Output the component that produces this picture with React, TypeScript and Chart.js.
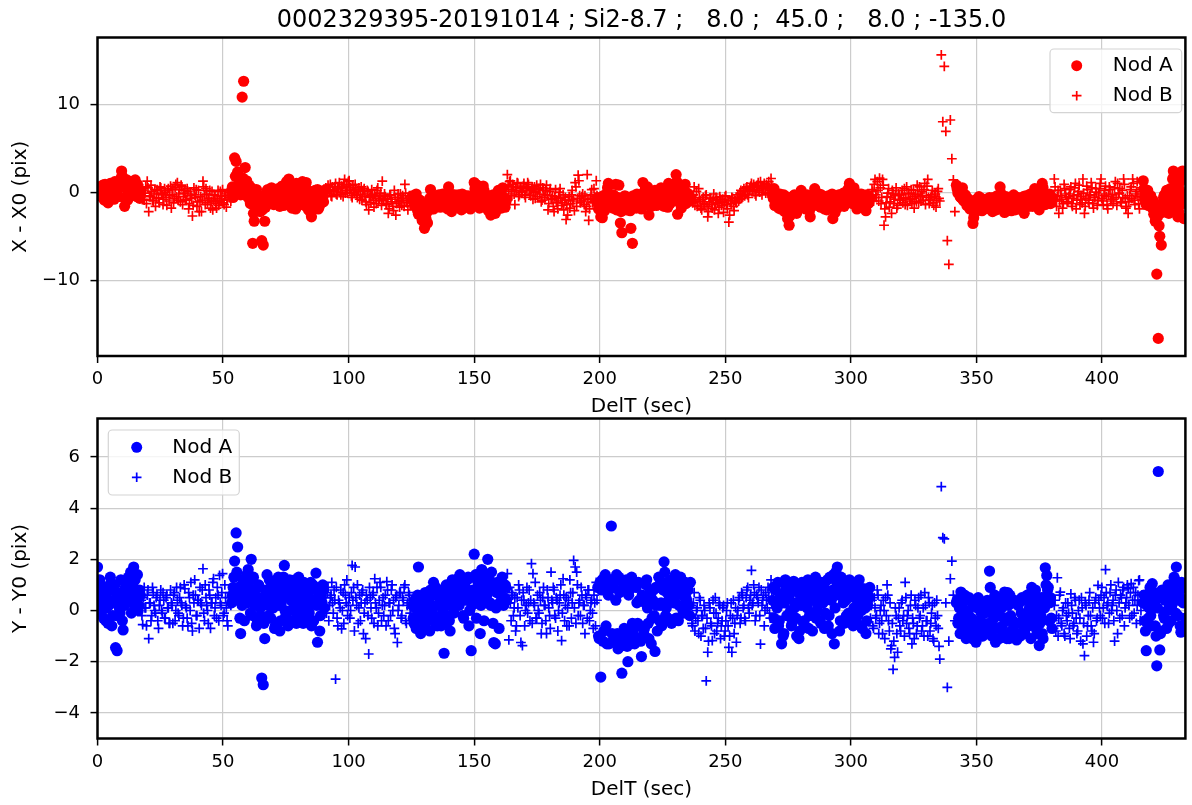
import React, { useEffect, useRef } from 'react';
import { Chart, registerables } from 'chart.js';

Chart.register(...registerables);

const FONT = "'DejaVu Sans', sans-serif";
const TITLE = '0002329395-20191014 ; Si2-8.7 ;   8.0 ;  45.0 ;   8.0 ; -135.0';
const GRID = '#cccccc';

// ---- ticks / ranges ----
const xTickValues = [0, 50, 100, 150, 200, 250, 300, 350, 400];
const topYTickValues = [-10, 0, 10];
const botYTickValues = [-4, -2, 0, 2, 4, 6];
const X_MAX = 433.2;
const TOP_Y_RANGE = [-18.6, 17.57];
const BOT_Y_RANGE = [-5, 7.5];

// ---- Nod A: frame times (sec), one sub-array per nod-A block ----
const nodATime = [
  [0.0,0.6,1.2,1.8,2.4,3.0,3.6,4.2,4.8,5.4,
   6.0,6.6,7.2,7.8,8.4,9.0,9.6,10.2,10.8,11.4,
   12.0,12.6,13.2,13.8,14.4,15.0,15.6,16.2,16.8],
  [53.4,54.0,54.6,55.2,55.8,56.4,57.0,57.6,58.2,58.8,
   59.4,60.0,60.6,61.2,61.8,62.4,63.0,63.6,64.2,64.8,
   65.4,66.0,66.6,67.2,67.8,68.4,69.0,69.6,70.2,70.8,
   71.4,72.0,72.6,73.2,73.8,74.4,75.0,75.6,76.2,76.8,
   77.4,78.0,78.6,79.2,79.8,80.4,81.0,81.6,82.2,82.8,
   83.4,84.0,84.6,85.2,85.8,86.4,87.0,87.6,88.2,88.8,
   89.4,90.0],
  [125.4,126.0,126.6,127.2,127.8,128.4,129.0,129.6,130.2,130.8,
   131.4,132.0,132.6,133.2,133.8,134.4,135.0,135.6,136.2,136.8,
   137.4,138.0,138.6,139.2,139.8,140.4,141.0,141.6,142.2,142.8,
   143.4,144.0,144.6,145.2,145.8,146.4,147.0,147.6,148.2,148.8,
   149.4,150.0,150.6,151.2,151.8,152.4,153.0,153.6,154.2,154.8,
   155.4,156.0,156.6,157.2,157.8,158.4,159.0,159.6,160.2,160.8,
   161.4,162.0,162.6],
  [199.2,199.8,200.4,201.0,201.6,202.2,202.8,203.4,204.0,204.6,
   205.2,205.8,206.4,207.0,207.6,208.2,208.8,209.4,210.0,210.6,
   211.2,211.8,212.4,213.0,213.6,214.2,214.8,215.4,216.0,216.6,
   217.2,217.8,218.4,219.0,219.6,220.2,220.8,221.4,222.0,222.6,
   223.2,223.8,224.4,225.0,225.6,226.2,226.8,227.4,228.0,228.6,
   229.2,229.8,230.4,231.0,231.6,232.2,232.8,233.4,234.0,234.6,
   235.2,235.8],
  [268.8,269.4,270.0,270.6,271.2,271.8,272.4,273.0,273.6,274.2,
   274.8,275.4,276.0,276.6,277.2,277.8,278.4,279.0,279.6,280.2,
   280.8,281.4,282.0,282.6,283.2,283.8,284.4,285.0,285.6,286.2,
   286.8,287.4,288.0,288.6,289.2,289.8,290.4,291.0,291.6,292.2,
   292.8,293.4,294.0,294.6,295.2,295.8,296.4,297.0,297.6,298.2,
   298.8,299.4,300.0,300.6,301.2,301.8,302.4,303.0,303.6,304.2,
   304.8,305.4,306.0,306.6,307.2],
  [342.0,342.6,343.2,343.8,344.4,345.0,345.6,346.2,346.8,347.4,
   348.0,348.6,349.2,349.8,350.4,351.0,351.6,352.2,352.8,353.4,
   354.0,354.6,355.2,355.8,356.4,357.0,357.6,358.2,358.8,359.4,
   360.0,360.6,361.2,361.8,362.4,363.0,363.6,364.2,364.8,365.4,
   366.0,366.6,367.2,367.8,368.4,369.0,369.6,370.2,370.8,371.4,
   372.0,372.6,373.2,373.8,374.4,375.0,375.6,376.2,376.8,377.4,
   378.0,378.6,379.2,379.8],
  [416.4,417.0,417.6,418.2,418.8,419.4,420.0,420.6,421.2,421.8,
   422.4,423.0,423.6,424.2,424.8,425.4,426.0,426.6,427.2,427.8,
   428.4,429.0,429.6,430.2,430.8,431.4,432.0,432.6,433.2],
];
// the in-between frames of the same blocks
const nodATimeMid = [
  [0.3,0.9,1.5,2.1,2.7,3.3,3.9,4.5,5.1,5.7,
   6.3,6.9,7.5,8.1,8.7,9.3,9.9,10.5,11.1,11.7,
   12.3,12.9,13.5,14.1,14.7,15.3,15.9,16.5,17.1],
  [53.7,54.3,54.9,55.5,56.1,56.7,57.3,57.9,58.5,59.1,
   59.7,60.3,60.9,61.5,62.1,62.7,63.3,63.9,64.5,65.1,
   65.7,66.3,66.9,67.5,68.1,68.7,69.3,69.9,70.5,71.1,
   71.7,72.3,72.9,73.5,74.1,74.7,75.3,75.9,76.5,77.1,
   77.7,78.3,78.9,79.5,80.1,80.7,81.3,81.9,82.5,83.1,
   83.7,84.3,84.9,85.5,86.1,86.7,87.3,87.9,88.5,89.1,
   89.7,90.3],
  [125.7,126.3,126.9,127.5,128.1,128.7,129.3,129.9,130.5,131.1,
   131.7,132.3,132.9,133.5,134.1,134.7,135.3,135.9,136.5,137.1,
   137.7,138.3,138.9,139.5,140.1,140.7,141.3,141.9,142.5,143.1,
   143.7,144.3,144.9,145.5,146.1,146.7,147.3,147.9,148.5,149.1,
   149.7,150.3,150.9,151.5,152.1,152.7,153.3,153.9,154.5,155.1,
   155.7,156.3,156.9,157.5,158.1,158.7,159.3,159.9,160.5,161.1,
   161.7,162.3,162.9],
  [199.5,200.1,200.7,201.3,201.9,202.5,203.1,203.7,204.3,204.9,
   205.5,206.1,206.7,207.3,207.9,208.5,209.1,209.7,210.3,210.9,
   211.5,212.1,212.7,213.3,213.9,214.5,215.1,215.7,216.3,216.9,
   217.5,218.1,218.7,219.3,219.9,220.5,221.1,221.7,222.3,222.9,
   223.5,224.1,224.7,225.3,225.9,226.5,227.1,227.7,228.3,228.9,
   229.5,230.1,230.7,231.3,231.9,232.5,233.1,233.7,234.3,234.9,
   235.5,236.1],
  [269.1,269.7,270.3,270.9,271.5,272.1,272.7,273.3,273.9,274.5,
   275.1,275.7,276.3,276.9,277.5,278.1,278.7,279.3,279.9,280.5,
   281.1,281.7,282.3,282.9,283.5,284.1,284.7,285.3,285.9,286.5,
   287.1,287.7,288.3,288.9,289.5,290.1,290.7,291.3,291.9,292.5,
   293.1,293.7,294.3,294.9,295.5,296.1,296.7,297.3,297.9,298.5,
   299.1,299.7,300.3,300.9,301.5,302.1,302.7,303.3,303.9,304.5,
   305.1,305.7,306.3,306.9,307.5],
  [342.3,342.9,343.5,344.1,344.7,345.3,345.9,346.5,347.1,347.7,
   348.3,348.9,349.5,350.1,350.7,351.3,351.9,352.5,353.1,353.7,
   354.3,354.9,355.5,356.1,356.7,357.3,357.9,358.5,359.1,359.7,
   360.3,360.9,361.5,362.1,362.7,363.3,363.9,364.5,365.1,365.7,
   366.3,366.9,367.5,368.1,368.7,369.3,369.9,370.5,371.1,371.7,
   372.3,372.9,373.5,374.1,374.7,375.3,375.9,376.5,377.1,377.7,
   378.3,378.9,379.5,380.1],
  [416.7,417.3,417.9,418.5,419.1,419.7,420.3,420.9,421.5,422.1,
   422.7,423.3,423.9,424.5,425.1,425.7,426.3,426.9,427.5,428.1,
   428.7,429.3,429.9,430.5,431.1,431.7,432.3,432.9],
];

// Nod A: X - X0 (pix)
const nodAX = [
  [0.3,-0.4,0.6,0.1,-0.6,0.9,0.2,-1.2,0.5,-0.3,
   0.7,-0.8,1.1,0.2,-0.5,1.3,2.4,0.9,-1.6,1.0,
   -0.9,0.4,1.2,-0.2,0.6,1.4,-0.5,0.3,-0.7],
  [0.2,-0.6,3.9,3.5,2.3,0.4,-0.3,10.8,12.6,2.8,
   1.3,0.1,-0.9,0.5,-5.8,-3.3,-1.5,-0.4,-1.0,-2.2,
   -5.5,-6.0,-3.3,-0.7,0.3,-1.2,-0.5,0.2,-1.4,-0.3,
   -0.9,0.4,-1.6,-0.2,0.6,-1.1,0.9,-0.6,1.5,-0.2,
   -1.8,0.3,-0.8,1.0,-1.3,0.2,-0.5,1.2,-1.0,0.6,
   -0.4,-2.0,-1.2,-2.8,0.1,-0.7,-1.5,0.3,-1.7,-0.9,
   -0.3,-1.1],
  [-0.4,-1.2,-0.6,-1.8,-2.5,-0.9,-1.5,-2.9,-4.1,-3.0,
   -3.5,-1.3,0.3,-0.8,-1.9,-1.1,-0.5,-1.6,-0.7,-1.3,
   -0.2,-1.0,-1.7,-0.6,0.6,-1.4,-2.2,-0.9,-0.3,-1.2,
   -1.6,-0.5,-1.0,-0.2,-1.8,-0.8,-1.3,-0.4,-1.1,-0.6,
   -1.5,1.1,-0.3,0.8,-0.9,-1.4,-0.1,0.7,-1.7,-0.6,
   -1.2,-0.4,-2.6,-1.0,-0.7,-2.4,-1.5,0.2,-0.9,-1.8,
   0.5,-0.6,-1.1],
  [-0.6,-1.4,-2.8,-2.9,-1.0,-0.3,-1.7,1.0,-1.2,-0.5,
   -1.8,-0.8,0.9,-1.5,0.8,-3.5,-4.6,-1.1,-0.4,-2.0,
   -1.3,-0.7,-4.1,-5.8,-1.6,-0.9,-0.2,-1.4,-0.6,-1.9,
   1.1,-0.5,-1.0,0.6,-2.6,-0.3,-1.2,-0.7,0.2,-1.5,
   -0.4,-1.1,0.5,-0.8,-1.6,0.1,-0.5,1.0,-1.3,-0.2,
   -0.9,0.4,2.0,-2.5,-0.6,0.7,-1.2,-0.3,0.9,-0.8,
   -0.4,-1.0],
  [-0.3,0.4,-1.0,-0.6,-1.8,-0.2,-1.3,-0.8,-2.2,-0.5,
   -3.0,-3.75,-1.6,-0.9,-0.4,-1.4,-2.4,-0.7,-1.1,0.2,
   -1.5,-0.6,-1.9,-0.3,-1.0,-2.8,-0.5,-1.2,0.4,-0.8,
   -1.4,-0.2,-1.7,-0.9,-0.5,-1.3,-2.0,-0.4,-1.0,-0.7,
   -3.0,-1.2,-0.6,-1.8,-0.3,-0.9,-1.5,-0.1,-1.1,-0.6,
   0.3,1.0,-0.8,-1.3,0.5,-0.4,-1.9,-0.7,-1.1,-0.2,
   -1.4,-0.5,-2.1,-0.8,-1.2],
  [0.8,-0.1,0.3,-0.6,0.5,-1.0,-0.3,-1.5,-0.8,-1.9,
   -1.2,-3.55,-2.4,-0.9,-1.6,-0.5,-1.3,-2.1,-0.8,-1.4,
   -1.0,-1.8,-0.6,-1.3,-2.2,-0.7,-1.5,-0.4,-1.1,0.6,
   -1.6,-0.9,-2.3,-0.5,-1.2,-1.8,-0.7,-1.4,-0.3,-2.0,
   -1.1,-0.6,-1.7,-0.9,-1.3,-2.4,-0.4,-1.0,-1.6,-0.2,
   -0.8,-1.5,0.4,-1.2,-0.6,-2.0,-0.3,1.0,-0.9,-1.4,
   -0.5,-1.1,-0.2,-0.8],
  [1.3,-0.6,-1.4,0.2,-1.0,-0.4,-1.8,-2.5,-3.3,-9.3,
   -16.6,-5.0,-6.0,-1.2,-0.3,-1.6,-0.8,-2.4,0.4,-1.1,
   2.4,-0.5,1.0,-2.8,0.3,-1.4,2.4,-3.0,1.6],
];
const nodAXMid = [
  [-0.2,0.5,0.0,0.8,-0.9,0.3,-0.4,0.6,1.0,-0.1,
   0.4,1.2,-0.3,0.7,0.9,1.6,1.8,-0.6,0.5,1.4,
   0.2,-0.4,0.8,1.0,-0.1,0.5,0.9,-0.3,0.1],
  [0.6,-0.2,1.8,2.0,0.9,1.1,0.4,1.6,0.7,0.2,
   -0.5,0.8,-1.3,-0.2,-2.4,-1.0,0.3,-0.9,-1.6,-0.4,
   -2.0,-1.1,-1.7,0.1,-0.6,-1.0,0.5,-1.3,-0.2,-0.8,
   0.2,-1.2,-0.4,0.7,-1.5,-0.3,1.2,-0.9,0.4,-1.4,
   0.9,-0.6,-1.9,0.4,-0.2,-1.1,0.8,-0.7,-1.5,1.1,
   -1.0,-0.3,-2.3,-0.6,-1.4,0.2,-0.8,-1.9,-0.5,-1.2,
   -0.6,0.2],
  [-0.8,-1.5,-0.2,-2.1,-1.3,-2.6,-3.2,-1.9,-3.4,-2.3,
   -1.6,-0.7,-1.9,-1.2,-0.4,-1.5,-1.0,-0.3,-1.7,-0.9,
   -1.4,-0.5,-1.1,-1.9,-0.8,-0.2,-1.3,-1.7,-0.6,-1.0,
   -0.3,-1.4,-2.0,-0.7,-1.2,-0.4,-1.6,-0.9,-1.9,-0.5,
   -0.8,0.4,-1.2,-0.6,-1.8,-0.3,-1.1,0.2,-0.9,-1.4,
   -2.1,-0.8,-1.5,-0.3,-2.2,-1.1,-0.6,-1.6,-1.3,-0.4,
   -1.0,-1.7,-0.8],
  [-1.9,-0.9,-1.5,-0.4,-2.1,-1.2,0.5,-0.7,-1.6,-1.0,
   -0.3,-1.3,-2.0,-0.6,-1.4,-2.2,-0.9,-1.7,-0.5,-1.2,
   -0.8,-2.1,-1.5,-0.4,-1.1,-1.8,-0.7,-0.3,-1.2,-0.5,
   -0.9,0.3,-1.4,-0.2,-0.8,-1.6,0.1,-1.0,-0.5,-1.3,
   0.2,-0.7,-1.2,0.4,-0.3,-1.0,-1.7,-0.4,0.6,-0.9,
   0.9,-0.5,1.2,-1.1,-0.2,-1.8,0.3,-0.7,-1.3,-0.1,
   -0.9,-0.6],
  [-0.7,-1.5,-0.2,-1.1,-0.5,-1.9,-0.9,-0.3,-1.4,-1.0,
   -2.2,-2.7,-0.8,-1.5,-0.3,-1.0,-1.7,-0.5,-1.3,-0.6,
   -0.9,-1.8,-0.4,-1.3,-2.1,-1.6,-0.7,-0.2,-1.1,-1.5,
   -0.6,-1.0,-0.3,-1.4,-1.9,-0.7,-1.2,-0.5,-1.6,-0.2,
   -1.8,-2.3,-0.9,-0.4,-1.3,-0.7,-1.0,-1.6,-0.5,-1.2,
   -0.1,0.6,0.2,-0.9,-0.5,-1.4,-0.8,-0.2,-1.5,-0.7,
   -1.0,-1.8,-0.3,-1.3,-0.6],
  [0.4,0.1,-0.5,0.0,-0.9,-0.4,-1.2,-0.7,-1.6,-1.1,
   -2.0,-2.9,-1.5,-0.8,-2.0,-1.1,-0.7,-1.6,-1.9,-1.0,
   -1.4,-0.8,-1.9,-1.1,-0.6,-1.7,-2.0,-0.9,-1.3,-0.1,
   -1.2,-1.8,-0.8,-1.5,-0.6,-1.3,-2.1,-0.9,-1.6,-1.1,
   -1.5,-1.9,-0.8,-1.4,-0.5,-1.7,-1.1,-1.5,-0.7,-1.2,
   -1.6,-0.4,-1.0,-0.1,-1.7,-1.3,-0.5,0.5,-1.2,-0.7,
   -1.0,-0.3,-1.3,-0.6],
  [0.4,-1.1,-0.2,-1.5,-0.5,-1.3,-0.9,-2.0,-1.6,-2.8,
   -3.8,-1.9,-2.3,-0.6,-1.4,0.2,-1.9,-0.5,-1.2,1.5,
   1.9,-1.7,0.6,-2.2,1.2,-0.9,1.8,-0.4],
];

// Nod A: Y - Y0 (pix)
const nodAY = [
  [1.7,0.6,0.2,0.9,-0.3,0.5,0.1,-0.5,1.0,0.3,
   -0.2,0.8,-1.45,-1.57,0.4,-0.1,0.7,-0.76,0.2,0.9,
   0.5,1.1,1.5,0.3,1.7,1.2,0.6,0.0,0.8],
  [0.3,0.9,1.93,3.03,2.48,0.6,-0.9,0.2,1.1,0.5,
   1.4,1.6,0.7,2.0,-0.2,0.8,0.4,-0.5,1.0,0.1,
   -2.64,-2.9,-1.1,0.6,0.2,1.2,-0.3,0.9,0.4,-0.6,
   0.7,1.3,-0.8,0.3,0.5,1.76,-0.2,1.0,0.6,-0.4,
   0.8,0.1,1.2,-0.5,0.4,0.9,-0.1,0.6,1.1,0.2,
   -0.3,0.7,0.2,-0.6,1.0,0.4,1.46,-1.24,0.5,-0.2,
   0.3,0.8],
  [0.2,-0.5,0.1,-0.3,1.7,-0.8,-0.2,0.4,-0.6,0.0,
   -0.4,0.3,0.8,-0.1,1.1,-0.5,0.2,-0.3,0.5,-0.6,
   0.1,-1.67,0.6,-0.2,0.9,-0.8,0.4,0.3,1.0,0.6,
   1.24,0.2,1.1,0.7,-0.3,0.9,0.5,1.3,0.0,-1.57,
   0.8,2.2,1.4,0.3,1.0,-0.9,1.6,0.6,1.2,0.4,
   2.0,0.9,0.2,1.1,-1.25,-1.3,0.7,1.0,0.3,0.8,
   1.05,0.5,0.9],
  [0.9,-1.1,-2.6,1.2,-0.8,1.4,-1.3,0.6,1.0,3.3,
   -1.2,1.1,0.4,-0.9,1.3,-1.4,-2.45,0.9,-1.0,1.2,
   -2.0,0.8,-1.3,-0.5,1.0,-1.05,0.3,1.1,-0.6,-1.8,
   0.5,-0.7,1.0,0.1,-1.1,0.6,-0.3,0.8,-1.6,0.2,
   0.9,-0.4,0.3,1.1,1.9,-0.2,0.7,0.4,1.2,-0.5,
   1.2,0.5,-0.3,1.0,0.2,1.3,0.6,-0.1,1.1,0.4,
   0.8,-0.2],
  [0.4,-0.3,0.8,0.1,-0.6,0.5,-1.3,-1.0,0.3,0.9,
   -0.2,0.6,0.0,-0.5,1.14,0.3,-1.0,0.7,-0.8,0.2,
   0.5,-0.4,0.9,0.1,-0.7,0.4,-0.2,0.6,1.0,-0.3,
   0.2,0.7,-0.5,0.3,1.0,-0.1,0.5,-0.6,1.3,0.4,
   0.8,-1.3,1.5,1.7,0.6,-0.4,1.2,0.3,0.9,-0.2,
   0.5,1.2,-0.3,0.8,0.1,0.6,-0.5,0.3,0.9,0.0,
   0.4,0.85,-0.9,0.2,0.5],
  [0.3,-0.5,0.1,0.72,-0.8,-0.2,0.4,-0.6,0.0,-0.9,
   -0.3,0.2,-0.7,-1.24,0.1,-0.4,-1.0,0.3,-0.5,-0.1,
   -0.8,0.0,1.54,-0.6,0.2,-0.3,-1.24,0.5,-0.7,-0.2,
   0.1,-0.9,0.72,-0.4,0.7,-1.1,-0.2,0.3,-0.6,-1.0,
   -1.15,0.2,-0.5,-0.1,0.4,-0.8,-0.3,0.6,-0.6,0.0,
   0.9,-0.4,0.3,-0.7,0.1,-1.37,-0.2,-0.9,0.5,1.67,
   1.37,0.9,0.3,-0.3],
  [0.3,-0.4,-1.57,0.6,0.1,-0.2,1.05,0.4,-0.6,-2.16,
   5.43,-1.54,-0.8,0.5,-0.3,0.8,0.0,-0.5,0.7,0.2,
   0.9,1.2,1.7,-0.2,0.6,-0.85,0.4,0.9,-0.3],
];
const nodAYMid = [
  [0.8,1.2,-0.1,0.5,0.9,-0.4,0.7,0.2,1.3,-0.6,
   0.4,1.0,-0.2,0.6,0.1,1.2,-0.4,0.3,0.9,0.5,
   1.3,0.7,-0.1,1.0,0.4,0.8,1.4,0.2,0.6],
  [0.6,1.3,0.4,1.5,0.9,-0.3,0.7,1.2,-0.4,0.8,
   0.3,1.1,-0.1,0.6,1.3,0.2,-0.6,0.9,0.5,-0.2,
   0.4,-0.5,0.8,1.4,-0.2,0.5,1.0,0.1,-0.7,0.6,
   1.1,0.2,-0.4,0.9,1.3,0.0,0.7,-0.6,1.2,0.4,
   0.0,1.0,0.6,-0.3,1.3,0.2,0.8,-0.5,0.4,1.0,
   0.6,-0.1,1.1,0.3,-0.4,0.9,0.2,0.7,-0.8,0.5,
   1.0,0.1],
  [-0.3,0.4,-0.7,0.6,-0.1,-0.9,0.3,-0.4,0.7,-0.2,
   0.5,-0.8,0.1,0.6,-0.3,0.9,-0.6,0.2,-0.2,0.8,
   0.4,-0.5,1.0,0.2,-0.4,0.7,1.2,-0.1,0.5,0.9,
   0.3,1.4,0.6,-0.2,1.0,0.4,1.2,-0.6,0.7,0.2,
   1.3,0.5,-0.3,1.1,0.8,0.2,1.4,-0.4,0.9,0.6,
   1.2,0.3,1.5,-0.5,0.8,0.1,1.1,-0.7,0.6,1.3,
   0.2,1.0,0.4],
  [-1.0,1.1,0.8,-1.2,1.3,-0.6,1.0,-1.3,1.2,-0.9,
   0.9,-1.1,1.4,-1.5,0.7,1.2,-1.2,-0.7,1.0,-1.4,
   0.6,-1.1,1.3,-0.8,-1.3,0.9,-0.5,0.4,-1.2,0.6,
   -0.9,0.3,1.2,-0.5,0.7,-1.3,0.4,-0.2,0.9,-0.8,
   1.3,0.2,-0.6,0.8,1.5,0.1,-0.3,1.1,0.6,1.0,
   0.3,1.4,0.8,-0.4,1.2,0.7,0.0,1.1,0.5,0.9,
   0.2,1.1],
  [0.9,-0.7,0.2,1.1,-0.4,0.6,0.3,-0.9,1.2,-0.2,
   0.5,1.0,-0.6,0.8,0.1,-0.3,0.9,-1.1,0.4,1.1,
   -0.5,0.7,0.2,1.2,-0.2,0.9,-0.8,0.4,1.3,0.0,
   0.6,-0.4,1.1,0.3,-0.7,0.8,1.2,-0.2,0.5,-0.9,
   1.4,0.1,1.1,0.9,-0.8,1.3,0.7,-0.5,0.4,1.0,
   -0.1,0.8,1.1,-0.6,0.5,0.9,-0.2,1.2,0.4,-0.7,
   0.7,0.1,-0.4,0.6,0.9],
  [0.4,-0.3,-0.9,0.2,-0.5,0.6,-1.1,-0.2,0.5,-0.7,
   -1.1,0.3,-0.4,-0.9,0.5,-0.6,-0.1,-1.0,0.2,-0.8,
   0.4,-0.5,0.9,-1.0,-0.2,0.6,-0.7,-0.1,-1.1,0.3,
   -0.6,0.5,-0.3,-1.1,0.2,0.6,-0.8,-0.4,0.4,-0.9,
   -0.5,0.3,-1.0,0.5,-0.3,-0.9,0.4,-0.6,0.1,-1.1,
   0.6,-0.2,0.8,-0.9,0.3,-0.5,0.5,-1.1,0.1,1.0,
   0.8,-0.4,0.5,-0.7],
  [0.6,-0.8,0.2,-0.3,0.9,-0.6,0.3,0.7,-1.0,0.1,
   0.5,-0.9,0.8,-0.2,0.4,-0.7,1.0,0.2,-0.4,0.6,
   1.3,-0.1,0.7,0.4,-0.6,1.1,0.3,-0.8],
];

// ---- Nod B: frame times (sec), one sub-array per nod-B block ----
const nodBTime = [
  [17.4,18.0,18.6,19.2,19.8,20.4,21.0,21.6,22.2,22.8,
   23.4,24.0,24.6,25.2,25.8,26.4,27.0,27.6,28.2,28.8,
   29.4,30.0,30.6,31.2,31.8,32.4,33.0,33.6,34.2,34.8,
   35.4,36.0,36.6,37.2,37.8,38.4,39.0,39.6,40.2,40.8,
   41.4,42.0,42.6,43.2,43.8,44.4,45.0,45.6,46.2,46.8,
   47.4,48.0,48.6,49.2,49.8,50.4,51.0,51.6,52.2,52.8],
  [90.6,91.2,91.8,92.4,93.0,93.6,94.2,94.8,95.4,96.0,
   96.6,97.2,97.8,98.4,99.0,99.6,100.2,100.8,101.4,102.0,
   102.6,103.2,103.8,104.4,105.0,105.6,106.2,106.8,107.4,108.0,
   108.6,109.2,109.8,110.4,111.0,111.6,112.2,112.8,113.4,114.0,
   114.6,115.2,115.8,116.4,117.0,117.6,118.2,118.8,119.4,120.0,
   120.6,121.2,121.8,122.4,123.0,123.6,124.2,124.8],
  [163.2,163.8,164.4,165.0,165.6,166.2,166.8,167.4,168.0,168.6,
   169.2,169.8,170.4,171.0,171.6,172.2,172.8,173.4,174.0,174.6,
   175.2,175.8,176.4,177.0,177.6,178.2,178.8,179.4,180.0,180.6,
   181.2,181.8,182.4,183.0,183.6,184.2,184.8,185.4,186.0,186.6,
   187.2,187.8,188.4,189.0,189.6,190.2,190.8,191.4,192.0,192.6,
   193.2,193.8,194.4,195.0,195.6,196.2,196.8,197.4,198.0,198.6],
  [236.4,237.0,237.6,238.2,238.8,239.4,240.0,240.6,241.2,241.8,
   242.4,243.0,243.6,244.2,244.8,245.4,246.0,246.6,247.2,247.8,
   248.4,249.0,249.6,250.2,250.8,251.4,252.0,252.6,253.2,253.8,
   254.4,255.0,255.6,256.2,256.8,257.4,258.0,258.6,259.2,259.8,
   260.4,261.0,261.6,262.2,262.8,263.4,264.0,264.6,265.2,265.8,
   266.4,267.0,267.6,268.2],
  [307.8,308.4,309.0,309.6,310.2,310.8,311.4,312.0,312.6,313.2,
   313.8,314.4,315.0,315.6,316.2,316.8,317.4,318.0,318.6,319.2,
   319.8,320.4,321.0,321.6,322.2,322.8,323.4,324.0,324.6,325.2,
   325.8,326.4,327.0,327.6,328.2,328.8,329.4,330.0,330.6,331.2,
   331.8,332.4,333.0,333.6,334.2,334.8,335.4,336.0,336.6,337.2,
   337.8,338.4,339.0,339.6,340.2,340.8,341.4],
  [380.4,381.0,381.6,382.2,382.8,383.4,384.0,384.6,385.2,385.8,
   386.4,387.0,387.6,388.2,388.8,389.4,390.0,390.6,391.2,391.8,
   392.4,393.0,393.6,394.2,394.8,395.4,396.0,396.6,397.2,397.8,
   398.4,399.0,399.6,400.2,400.8,401.4,402.0,402.6,403.2,403.8,
   404.4,405.0,405.6,406.2,406.8,407.4,408.0,408.6,409.2,409.8,
   410.4,411.0,411.6,412.2,412.8,413.4,414.0,414.6,415.2,415.8],
];
const nodBTimeMid = [
  [17.7,18.3,18.9,19.5,20.1,20.7,21.3,21.9,22.5,23.1,
   23.7,24.3,24.9,25.5,26.1,26.7,27.3,27.9,28.5,29.1,
   29.7,30.3,30.9,31.5,32.1,32.7,33.3,33.9,34.5,35.1,
   35.7,36.3,36.9,37.5,38.1,38.7,39.3,39.9,40.5,41.1,
   41.7,42.3,42.9,43.5,44.1,44.7,45.3,45.9,46.5,47.1,
   47.7,48.3,48.9,49.5,50.1,50.7,51.3,51.9,52.5,53.1],
  [90.9,91.5,92.1,92.7,93.3,93.9,94.5,95.1,95.7,96.3,
   96.9,97.5,98.1,98.7,99.3,99.9,100.5,101.1,101.7,102.3,
   102.9,103.5,104.1,104.7,105.3,105.9,106.5,107.1,107.7,108.3,
   108.9,109.5,110.1,110.7,111.3,111.9,112.5,113.1,113.7,114.3,
   114.9,115.5,116.1,116.7,117.3,117.9,118.5,119.1,119.7,120.3,
   120.9,121.5,122.1,122.7,123.3,123.9,124.5,125.1],
  [163.5,164.1,164.7,165.3,165.9,166.5,167.1,167.7,168.3,168.9,
   169.5,170.1,170.7,171.3,171.9,172.5,173.1,173.7,174.3,174.9,
   175.5,176.1,176.7,177.3,177.9,178.5,179.1,179.7,180.3,180.9,
   181.5,182.1,182.7,183.3,183.9,184.5,185.1,185.7,186.3,186.9,
   187.5,188.1,188.7,189.3,189.9,190.5,191.1,191.7,192.3,192.9,
   193.5,194.1,194.7,195.3,195.9,196.5,197.1,197.7,198.3,198.9],
  [236.7,237.3,237.9,238.5,239.1,239.7,240.3,240.9,241.5,242.1,
   242.7,243.3,243.9,244.5,245.1,245.7,246.3,246.9,247.5,248.1,
   248.7,249.3,249.9,250.5,251.1,251.7,252.3,252.9,253.5,254.1,
   254.7,255.3,255.9,256.5,257.1,257.7,258.3,258.9,259.5,260.1,
   260.7,261.3,261.9,262.5,263.1,263.7,264.3,264.9,265.5,266.1,
   266.7,267.3,267.9,268.5],
  [308.1,308.7,309.3,309.9,310.5,311.1,311.7,312.3,312.9,313.5,
   314.1,314.7,315.3,315.9,316.5,317.1,317.7,318.3,318.9,319.5,
   320.1,320.7,321.3,321.9,322.5,323.1,323.7,324.3,324.9,325.5,
   326.1,326.7,327.3,327.9,328.5,329.1,329.7,330.3,330.9,331.5,
   332.1,332.7,333.3,333.9,334.5,335.1],
  [380.7,381.3,381.9,382.5,383.1,383.7,384.3,384.9,385.5,386.1,
   386.7,387.3,387.9,388.5,389.1,389.7,390.3,390.9,391.5,392.1,
   392.7,393.3,393.9,394.5,395.1,395.7,396.3,396.9,397.5,398.1,
   398.7,399.3,399.9,400.5,401.1,401.7,402.3,402.9,403.5,404.1,
   404.7,405.3,405.9,406.5,407.1,407.7,408.3,408.9,409.5,410.1,
   410.7,411.3,411.9,412.5,413.1,413.7,414.3,414.9,415.5,416.1],
];

// Nod B: X - X0 (pix)
const nodBX = [
  [-0.2,0.4,-0.9,0.6,1.25,-2.2,-0.5,0.1,-1.0,0.3,
   -0.6,0.2,-1.2,0.5,-0.3,-0.8,0.0,-1.5,0.4,-0.4,
   -1.8,0.3,-0.7,0.9,1.1,-0.2,-1.1,0.6,-0.5,0.2,
   -0.9,0.1,-1.3,-0.4,-2.7,0.5,-0.6,-1.6,0.2,-1.0,
   -2.2,1.25,-0.3,0.4,-1.2,-0.7,-1.8,0.1,-0.9,-0.4,
   -1.8,0.2,-1.1,-0.5,0.3,-1.4,-0.2,-0.8,0.0,-0.6],
  [0.3,-0.2,0.8,0.1,-0.4,0.6,0.2,1.0,-0.3,0.4,
   0.0,0.7,-0.5,1.45,0.2,-0.1,1.3,0.5,-0.6,0.3,
   0.9,-0.3,0.1,-0.8,0.6,-0.2,0.4,-1.1,0.2,-2.0,
   -0.4,0.3,-0.9,-0.2,-1.3,0.5,-0.7,-0.1,1.26,-0.9,
   -0.5,-1.4,-2.4,-0.3,-0.8,-1.6,0.2,-2.6,-0.6,-1.1,
   -0.2,-1.5,-0.7,0.9,-1.0,-2.0,-0.4,-1.2],
  [2.0,0.3,1.3,-0.4,0.6,-1.4,0.2,1.0,-0.3,0.5,
   0.1,1.0,-0.6,0.4,0.9,-0.2,0.3,-0.8,0.6,0.0,
   -0.5,0.4,0.9,-0.9,0.2,-0.3,0.8,-2.0,0.1,-0.7,
   -0.4,-2.2,0.3,-1.2,-0.6,0.4,-1.5,-0.3,-0.9,-3.1,
   -2.6,-0.5,-1.3,0.2,-0.8,1.1,-1.6,1.95,-0.4,-1.0,
   -0.2,-1.4,-2.2,2.0,-3.2,-0.7,0.3,-1.1,-0.5,1.3],
  [-0.5,-1.2,0.6,-0.8,-1.6,0.4,-1.0,-2.0,-0.6,-1.4,
   -0.3,-2.8,-1.1,-0.7,-1.8,-0.2,-1.3,-0.9,-2.4,-0.5,
   -1.5,-0.8,-1.2,-0.4,-1.9,-3.4,-1.0,-0.6,-1.6,-0.9,
   -1.2,-0.3,-0.8,0.2,-0.5,0.4,-0.2,0.6,-0.6,0.3,
   1.0,0.1,0.5,-0.4,0.8,0.2,1.2,-0.3,0.6,0.4,
   0.9,-0.1,0.5,1.56],
  [-0.4,0.3,-1.0,1.45,-0.6,0.2,1.6,-1.3,1.45,-3.75,
   -2.8,-0.5,0.4,-1.1,-2.4,-0.2,-0.8,0.5,-1.5,-0.3,
   -0.9,0.2,-0.6,-1.4,0.6,-0.2,-1.0,0.3,-0.7,-1.8,
   -0.3,0.8,-1.2,-0.5,0.1,-0.9,1.0,-0.4,1.45,-1.3,
   -0.6,0.2,-1.5,-0.2,-0.9,0.4,-1.0,15.6,8.0,14.3,
   6.9,-5.5,-8.2,8.2,3.8,1.4,-2.2],
  [-0.3,1.5,-1.0,-0.5,-2.4,0.2,-0.8,-1.3,0.4,-0.6,
   -1.1,-0.2,0.6,-1.6,-0.4,1.0,-0.9,0.1,-1.4,-0.5,
   1.5,-2.4,-0.7,0.3,-1.2,-0.3,0.5,-1.8,-0.6,0.0,
   -0.9,0.4,1.5,-1.0,-0.4,0.7,-1.5,-0.2,0.3,-0.8,
   -1.3,0.5,-0.6,1.0,-0.1,-1.1,0.2,1.5,-0.7,-1.6,
   -2.4,-0.4,0.6,1.5,-0.9,-0.2,1.2,-1.3,-0.5,0.3],
];
const nodBXMid = [
  [0.2,-0.8,-0.1,-1.3,0.5,-0.4,0.8,-0.9,-0.2,-1.6,
   0.3,-0.7,0.6,-0.1,-1.4,0.4,-0.6,0.2,-1.0,0.7,
   -0.3,-1.2,0.5,-0.5,-0.9,0.3,0.8,-1.4,-0.1,-0.8,
   0.4,-1.9,-0.2,-0.7,-1.5,-0.3,0.3,-1.1,-2.2,-0.5,
   -0.9,0.6,-1.4,-0.2,-0.7,0.2,-1.1,-2.0,-0.3,-1.3,
   -0.7,-1.5,0.1,-0.9,-1.2,-0.4,-1.7,0.2,-0.6,-1.0],
  [0.5,-0.1,0.3,0.9,-0.5,0.1,0.6,-0.2,0.4,1.1,
   -0.3,0.5,0.9,-0.1,0.7,1.2,0.2,-0.4,0.8,0.0,
   0.3,-0.6,0.5,-0.3,-0.9,0.2,-0.5,-1.4,0.1,-0.6,
   -1.2,-0.3,-1.7,-0.5,0.2,-1.0,-0.4,-1.5,-0.8,-0.2,
   -1.3,-0.7,-1.9,-0.4,-1.1,-2.1,-0.6,-1.3,-0.2,-1.7,
   -0.9,-0.4,-1.6,-0.1,-1.2,-0.7,-1.5,-0.9],
  [0.8,1.2,0.1,0.9,-0.2,0.5,1.1,-0.5,0.4,0.0,
   0.7,-0.3,0.5,1.1,0.2,-0.4,0.6,0.1,-0.7,0.8,
   0.3,-0.2,-1.1,0.5,-0.6,0.2,-0.4,-1.3,0.4,-0.8,
   -1.6,-0.5,-1.0,-1.9,0.0,-0.7,-1.2,-2.0,-0.6,-1.4,
   -0.9,-1.8,-0.3,-1.0,-2.1,0.6,-0.7,1.3,-1.2,-0.5,
   -1.0,-0.4,-1.6,-0.8,-1.9,-0.3,-1.2,0.4,-0.9,-0.4],
  [-0.9,-0.3,-1.5,0.1,-1.1,-0.6,-1.8,-0.8,-1.3,-0.4,
   -1.6,-2.2,-0.7,-1.4,-0.9,-2.0,-0.6,-1.2,-1.7,-0.8,
   -1.1,-2.3,-0.5,-1.4,-0.9,-2.6,-1.3,-0.7,-2.1,-1.0,
   -0.6,-1.0,-0.1,-0.7,0.1,-0.4,0.5,-0.3,0.2,0.7,
   0.3,0.9,-0.2,0.6,1.1,0.0,0.7,0.4,1.0,-0.1,
   0.6,1.2,0.2,0.8],
  [-0.9,0.1,0.9,-0.3,1.2,-1.0,0.5,-0.6,0.8,-1.9,
   -1.2,-0.1,-1.7,-0.6,0.2,-1.3,-0.4,-1.8,-0.2,-0.9,
   -0.3,-1.2,0.4,-0.7,-1.5,-0.1,-0.8,-1.3,0.2,-0.5,
   -1.1,-0.2,0.6,-1.0,-0.4,0.3,-1.4,0.7,-0.6,-0.9,
   -0.3,-1.2,-0.5,-1.7,0.1,-0.7],
  [-0.8,0.6,-1.6,0.2,-1.0,-0.4,-1.8,0.9,-0.2,-1.1,
   -0.5,0.3,-1.3,-0.7,0.5,-1.9,-0.3,0.8,-0.8,-1.2,
   -0.1,-1.6,0.7,-0.9,-0.4,1.1,-1.3,-0.6,0.4,-1.5,
   -0.2,1.0,-0.7,-1.4,0.2,-0.5,-1.9,0.6,-1.0,-0.3,
   -0.8,1.2,-1.5,-0.2,0.4,-1.2,-0.6,0.9,-1.8,-0.4,
   -1.1,0.3,-0.7,1.0,-1.4,0.1,-0.5,-1.9,0.5,-0.9],
];

// Nod B: Y - Y0 (pix)
const nodBY = [
  [0.4,-0.55,0.9,0.1,0.6,-1.1,0.3,-0.2,0.7,0.0,
   0.5,-0.4,0.2,0.8,-0.1,0.4,-0.3,0.6,0.1,-0.5,
   0.3,-0.5,0.7,0.0,0.4,-0.2,0.9,0.2,-0.3,0.85,
   0.1,-0.6,0.5,1.1,-0.8,0.3,0.6,-0.2,0.4,0.9,
   0.2,1.63,-0.4,0.5,0.0,0.8,-0.7,0.3,1.24,0.1,
   -0.3,0.6,1.37,0.2,1.44,-0.1,0.5,-0.4,0.3,0.7],
  [0.5,-0.1,0.9,0.2,0.6,0.3,0.8,-2.68,-0.3,0.4,
   0.1,-0.72,0.7,1.0,0.3,-0.2,0.5,0.0,1.76,0.9,
   1.7,0.2,-0.5,0.6,0.3,0.8,-0.1,-1.1,0.4,-1.7,
   0.5,-0.3,0.7,1.24,0.1,-0.6,0.4,0.9,0.2,-0.2,
   0.6,1.13,-0.4,0.3,0.8,0.0,-0.7,0.5,-1.25,0.2,
   0.7,-0.2,0.4,1.0,-0.5,0.3,0.6,0.1],
  [1.44,-1.15,0.3,0.7,-0.2,0.5,-0.6,0.1,0.8,-1.25,
   -1.37,0.4,0.0,0.9,0.3,-0.4,1.83,1.44,0.2,-0.3,
   0.6,-0.1,0.4,-0.5,0.9,0.2,-0.9,0.5,-0.2,1.5,
   0.3,0.8,-0.3,0.4,0.0,0.6,-1.18,1.24,-0.4,0.5,
   0.1,-0.6,0.7,0.3,1.96,1.7,1.5,-0.2,0.4,0.9,
   -0.5,0.2,0.6,-0.3,0.8,0.0,0.4,-0.7,0.3,1.1],
  [0.2,-0.6,0.7,-0.3,0.1,-0.9,0.4,-0.2,-0.7,0.0,
   -2.75,-1.63,0.3,-0.5,-1.18,-0.1,0.5,-0.8,-0.3,0.2,
   -0.6,0.1,-1.0,-0.4,0.3,-1.44,-0.2,-1.63,0.4,-0.5,
   -1.24,0.0,0.5,-0.3,0.6,0.2,-0.4,0.8,0.1,0.4,
   1.57,0.3,0.7,-0.2,0.5,0.9,-1.31,0.2,0.6,0.0,
   0.4,0.9,-0.1,1.2],
  [-0.3,0.4,-0.7,0.1,-0.2,0.6,-0.5,0.2,-0.9,0.0,
   0.5,1.0,-0.4,0.3,-1.37,-2.3,-1.83,-0.2,-1.63,0.1,
   -0.8,0.4,-0.2,1.1,-0.5,0.0,-0.9,0.6,-0.3,-1.1,
   0.2,-0.6,0.5,-0.2,-0.8,0.1,0.7,-0.4,-1.0,0.3,
   -0.5,0.2,-1.2,-0.3,0.4,-0.7,-1.9,4.84,2.85,2.8,
   0.3,-3.0,-1.2,1.24,1.93,0.6,-0.4],
  [-0.4,0.2,-0.8,1.28,-0.3,0.72,-0.6,0.1,-1.0,-0.2,
   0.3,-0.7,0.65,-0.1,-0.5,0.4,-0.9,0.0,-0.3,0.5,
   -1.3,-1.76,0.2,-0.6,0.4,-0.2,-0.8,-1.24,0.3,-0.4,
   0.98,0.1,0.6,-0.3,0.5,1.6,0.2,-0.5,0.7,0.0,
   0.4,-1.2,0.8,-0.9,0.3,0.6,-0.2,0.9,0.1,0.5,
   0.85,-0.3,1.05,0.4,-0.1,0.7,0.2,1.17,-0.4,0.6],
];
const nodBYMid = [
  [-0.2,0.5,0.1,-0.6,0.8,0.3,-0.4,0.9,0.2,-0.1,
   0.6,-0.7,0.4,0.0,0.7,-0.3,0.5,0.1,-0.5,0.8,
   0.2,0.6,-0.4,0.9,-0.1,0.5,0.3,-0.6,1.0,0.2,
   -0.3,0.7,0.0,-0.5,0.6,1.2,-0.2,0.4,-0.7,0.3,
   0.8,-0.1,1.0,0.2,-0.5,0.6,0.3,1.1,-0.2,0.5,
   0.9,-0.4,0.3,0.7,-0.2,1.0,0.1,-0.6,0.5,0.2],
  [0.2,0.7,-0.4,0.5,1.1,-0.1,0.4,0.9,-0.6,0.3,
   0.8,0.0,-0.5,0.6,1.2,0.2,-0.3,0.7,0.4,-0.8,
   0.5,1.0,0.1,-0.4,0.7,-0.9,0.3,0.6,-0.2,0.9,
   0.1,0.6,-0.5,0.3,0.9,-0.1,1.1,-0.4,0.5,0.2,
   -0.6,0.8,0.3,-0.2,1.0,0.4,-0.9,0.6,0.0,0.7,
   -0.3,0.5,0.9,-0.4,0.2,0.7,-0.1,0.4],
  [0.3,0.9,-0.4,0.6,0.1,-0.8,0.5,1.0,-0.2,0.4,
   0.7,-0.6,0.2,-0.1,0.8,0.4,-0.5,0.3,1.1,-0.3,
   0.0,0.7,-0.9,0.5,0.2,-0.4,0.8,0.1,-0.7,0.4,
   0.9,-0.2,0.5,-0.8,0.3,1.0,-0.1,0.6,0.2,-0.6,
   0.4,1.2,-0.3,0.7,0.1,-0.5,1.0,0.3,-0.2,0.6,
   0.2,-0.9,0.5,0.8,-0.4,0.3,-0.1,0.6,-0.6,0.4],
  [-0.5,0.3,-0.8,0.0,-0.4,0.5,-1.0,-0.2,0.2,-0.7,
   -0.3,-1.2,0.1,-0.6,0.4,-0.9,-0.1,-0.5,0.3,-1.1,
   -0.4,0.2,-0.8,0.0,-0.6,-1.0,0.3,-0.3,-0.9,0.1,
   -0.2,0.4,-0.5,0.7,0.1,-0.3,0.5,0.9,-0.1,0.6,
   0.2,1.0,-0.4,0.6,0.3,-0.2,0.8,0.4,-0.6,0.7,
   0.1,0.5,-0.3,0.8],
  [0.2,-0.6,0.5,-0.3,0.8,-0.9,0.0,-0.4,0.4,-1.1,
   -0.2,0.6,-0.8,-1.5,-0.5,-1.2,0.1,-0.9,-0.3,-0.6,
   0.3,-0.4,-1.0,0.5,-0.2,-0.7,0.2,-1.3,-0.5,0.4,
   -0.9,0.1,-0.3,0.6,-0.6,-1.0,0.2,-0.4,0.5,-0.8,
   -0.1,-1.1,0.3,-0.6,-0.2,-1.4],
  [-0.7,0.4,-0.2,-1.0,0.6,-0.5,0.0,-0.9,0.3,-0.4,
   -0.1,-1.1,0.2,-0.6,0.5,-0.3,-0.8,0.4,-1.2,0.1,
   -0.5,0.3,-1.0,-0.2,0.7,-0.6,0.1,-0.9,0.5,-0.3,
   0.4,-0.2,0.9,0.1,-0.5,0.7,0.3,-0.1,1.0,0.2,
   -0.4,0.6,0.0,1.1,-0.3,0.5,0.8,-0.6,0.3,1.0,
   0.2,0.7,-0.2,0.9,0.4,-0.5,0.6,1.2,0.0,0.4],
];

function toPoints(times: number[][], vals: number[][]) {
  const pts: { x: number; y: number }[] = [];
  times.forEach((seg, i) => {
    const v = vals[i] || [];
    const n = Math.min(seg.length, v.length);
    for (let k = 0; k < n; k++) pts.push({ x: seg[k], y: v[k] });
  });
  return pts;
}

const fmtTick = (v: any) => {
  const n = Number(v);
  return n < 0 ? '\u2212' + Math.abs(n) : String(n);
};

const framePlugin = {
  id: 'mplFrame',
  afterDatasetsDraw(chart: any) {
    const { ctx, chartArea: a } = chart;
    ctx.save();
    ctx.strokeStyle = '#000';
    ctx.lineWidth = 2.5;
    ctx.strokeRect(a.left, a.top, a.right - a.left, a.bottom - a.top);
    ctx.restore();
  },
};

type LegendBox = { x: number; y: number; w: number; h: number; mx: number; r1: number; r2: number; tx: number };

function legendPlugin(color: string, b: LegendBox) {
  return {
    id: 'mplLegend',
    afterDraw(chart: any) {
      const ctx = chart.ctx;
      ctx.save();
      ctx.beginPath();
      if (ctx.roundRect) ctx.roundRect(b.x, b.y, b.w, b.h, 4);
      else ctx.rect(b.x, b.y, b.w, b.h);
      ctx.fillStyle = 'rgba(255,255,255,0.8)';
      ctx.fill();
      ctx.strokeStyle = '#d4d4d4';
      ctx.lineWidth = 1.2;
      ctx.stroke();
      ctx.fillStyle = color;
      ctx.beginPath();
      ctx.arc(b.mx, b.r1, 5.5, 0, Math.PI * 2);
      ctx.fill();
      ctx.strokeStyle = color;
      ctx.lineWidth = 1.7;
      ctx.beginPath();
      ctx.moveTo(b.mx - 4.8, b.r2);
      ctx.lineTo(b.mx + 4.8, b.r2);
      ctx.moveTo(b.mx, b.r2 - 4.8);
      ctx.lineTo(b.mx, b.r2 + 4.8);
      ctx.stroke();
      ctx.fillStyle = '#000';
      ctx.font = `20px ${FONT}`;
      ctx.textAlign = 'left';
      ctx.textBaseline = 'middle';
      ctx.fillText('Nod A', b.tx, b.r1);
      ctx.fillText('Nod B', b.tx, b.r2);
      ctx.restore();
    },
  };
}

function buildConfig(p: {
  color: string;
  ptsA: { x: number; y: number }[];
  ptsB: { x: number; y: number }[];
  yRange: number[];
  yTicks: number[];
  yTitle: string;
  title: string | null;
  padTop: number;
  xAxisHeight: number;
  xTitlePadBottom: number;
  legend: LegendBox;
}): any {
  const tickFont = { family: FONT, size: 18 };
  const titleFont = { family: FONT, size: 20 };
  return {
    type: 'scatter',
    data: {
      datasets: [
        {
          label: 'Nod B',
          data: p.ptsB,
          showLine: false,
          pointStyle: 'cross',
          pointRadius: 4.9,
          pointBorderWidth: 1.7,
          pointBorderColor: p.color,
          pointBackgroundColor: p.color,
          borderColor: p.color,
          backgroundColor: p.color,
          clip: 0,
        },
        {
          label: 'Nod A',
          data: p.ptsA,
          showLine: false,
          pointStyle: 'circle',
          pointRadius: 5.6,
          pointBorderWidth: 0,
          pointBackgroundColor: p.color,
          pointBorderColor: p.color,
          borderColor: p.color,
          backgroundColor: p.color,
          clip: 0,
        },
      ],
    },
    options: {
      responsive: false,
      maintainAspectRatio: false,
      animation: false,
      events: [],
      layout: { padding: { top: p.padTop, right: 3, bottom: 0, left: 0 } },
      plugins: {
        legend: { display: false },
        tooltip: { enabled: false },
        title: p.title
          ? {
              display: true,
              text: p.title,
              fullSize: false,
              color: '#000',
              font: { family: FONT, size: 24, weight: 'normal' },
              padding: { top: 6, bottom: 2.7 },
            }
          : { display: false },
      },
      scales: {
        x: {
          type: 'linear',
          position: 'bottom',
          min: 0,
          max: X_MAX,
          afterBuildTicks: (s: any) => {
            s.ticks = xTickValues.map((v) => ({ value: v }));
          },
          afterFit: (s: any) => {
            s.height = p.xAxisHeight;
          },
          ticks: { font: tickFont, color: '#000', padding: 6, maxRotation: 0, autoSkip: false, callback: fmtTick },
          grid: { color: GRID, lineWidth: 1.2, drawTicks: true, tickLength: 7, tickColor: '#000', tickWidth: 1.5 },
          border: { display: false },
          title: { display: true, text: 'DelT (sec)', color: '#000', font: titleFont, padding: { top: 0, bottom: p.xTitlePadBottom } },
        },
        y: {
          type: 'linear',
          position: 'left',
          min: p.yRange[0],
          max: p.yRange[1],
          afterBuildTicks: (s: any) => {
            s.ticks = p.yTicks.map((v) => ({ value: v }));
          },
          afterFit: (s: any) => {
            s.width = 97.5;
          },
          ticks: { font: tickFont, color: '#000', padding: 10.5, autoSkip: false, callback: fmtTick },
          grid: { color: GRID, lineWidth: 1.2, drawTicks: true, tickLength: 7, tickColor: '#000', tickWidth: 1.5 },
          border: { display: false },
          title: { display: true, text: p.yTitle, color: '#000', font: titleFont, padding: { top: 9, bottom: 0 } },
        },
      },
    },
    plugins: [framePlugin, legendPlugin(p.color, p.legend)],
  };
}

export default function App() {
  const topRef = useRef<HTMLCanvasElement>(null);
  const botRef = useRef<HTMLCanvasElement>(null);

  useEffect(() => {
    const topChart = new Chart(
      topRef.current as HTMLCanvasElement,
      buildConfig({
        color: '#ff0000',
        ptsA: toPoints(nodATime, nodAX).concat(toPoints(nodATimeMid, nodAXMid)),
        ptsB: toPoints(nodBTime, nodBX).concat(toPoints(nodBTimeMid, nodBXMid)),
        yRange: TOP_Y_RANGE,
        yTicks: topYTickValues,
        yTitle: 'X - X0 (pix)',
        title: TITLE,
        padTop: 0,
        xAxisHeight: 64,
        xTitlePadBottom: 1,
        legend: { x: 1050, y: 49, w: 131.7, h: 63.7, mx: 1076.7, r1: 65.7, r2: 95.7, tx: 1112.7 },
      })
    );
    const botChart = new Chart(
      botRef.current as HTMLCanvasElement,
      buildConfig({
        color: '#0000ff',
        ptsA: toPoints(nodATime, nodAY).concat(toPoints(nodATimeMid, nodAYMid)),
        ptsB: toPoints(nodBTime, nodBY).concat(toPoints(nodBTimeMid, nodBYMid)),
        yRange: BOT_Y_RANGE,
        yTicks: botYTickValues,
        yTitle: 'Y - Y0 (pix)',
        title: null,
        padTop: 23.5,
        xAxisHeight: 66.5,
        xTitlePadBottom: 3.5,
        legend: { x: 108.3, y: 35, w: 131, h: 65, mx: 136.7, r1: 52.3, r2: 82.3, tx: 172.3 },
      })
    );
    return () => {
      topChart.destroy();
      botChart.destroy();
    };
  }, []);

  return (
    <div style={{ position: 'absolute', left: 0, top: 0, width: 1192, height: 805, background: '#fff', overflow: 'hidden' }}>
      <canvas ref={topRef} width={1192} height={420} style={{ position: 'absolute', left: 0, top: 0, width: 1192, height: 420 }} />
      <canvas ref={botRef} width={1192} height={410} style={{ position: 'absolute', left: 0, top: 395, width: 1192, height: 410 }} />
    </div>
  );
}
